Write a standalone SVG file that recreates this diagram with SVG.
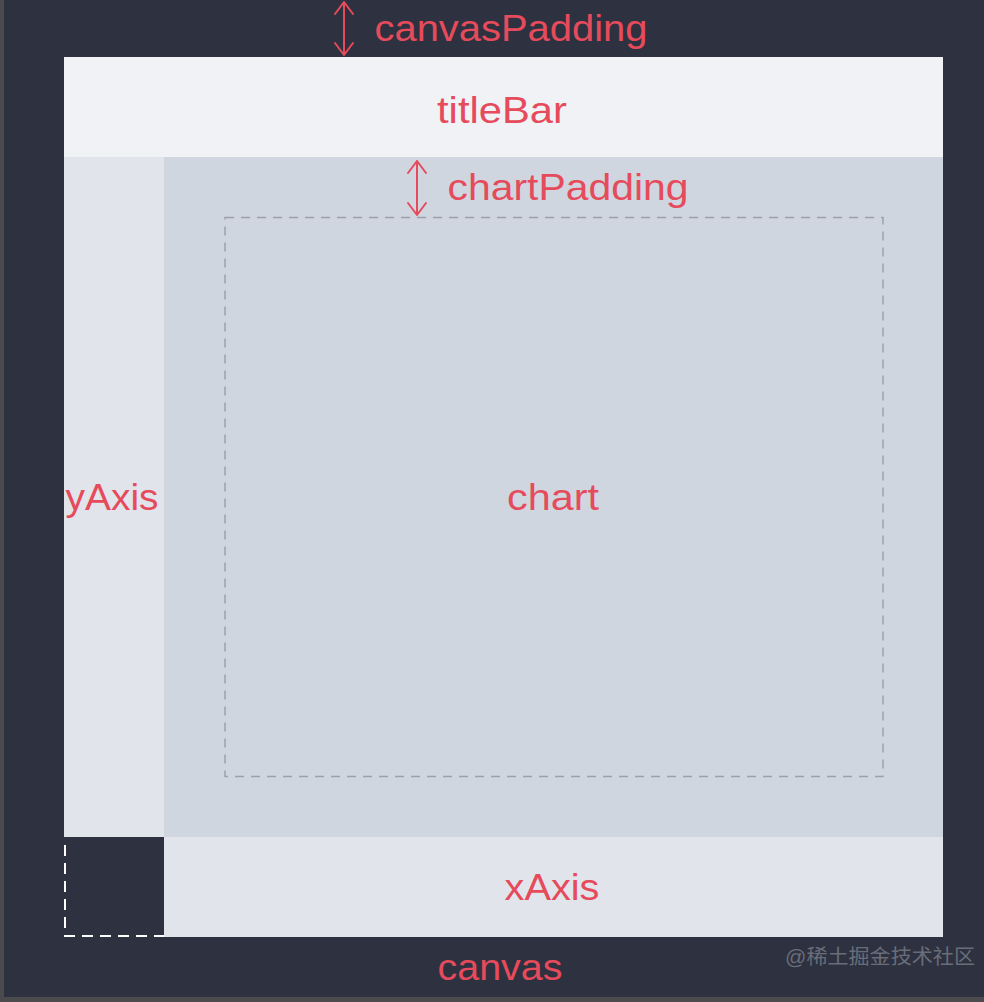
<svg xmlns="http://www.w3.org/2000/svg" width="984" height="1002" viewBox="0 0 984 1002">
<style>
.lbl{font-family:"Liberation Sans","Noto Sans",Arial,sans-serif;font-size:37px;fill:#e64b5c;text-anchor:middle}
.arr{stroke:#e64b5c;stroke-width:2;fill:none;stroke-linecap:round;stroke-linejoin:round}
.wm{font-family:"Liberation Sans","Noto Sans CJK SC",sans-serif;font-size:20px;fill:#7d818c;opacity:0.75}
</style>
<rect x="0" y="0" width="984" height="1002" fill="#2e3140"/>
<rect x="0" y="0" width="4" height="1002" fill="#4b4b4d"/>
<rect x="0" y="997" width="984" height="5" fill="#4b4b4d"/>
<g id="titleBar">
<rect x="64" y="57" width="879" height="100" fill="#f0f2f6"/>
<text class="lbl" x="502" y="123" textLength="130" lengthAdjust="spacingAndGlyphs">titleBar</text>
</g>
<g id="yAxis">
<rect x="64" y="157" width="100" height="680" fill="#e1e5eb"/>
<text class="lbl" x="112" y="510" textLength="93" lengthAdjust="spacingAndGlyphs">yAxis</text>
</g>
<g id="chartArea">
<rect x="164" y="157" width="779" height="680" fill="#d0d6e0"/>
</g>
<g id="chart">
<rect x="225" y="217.5" width="658" height="559" fill="none" stroke="#9aa1ad" stroke-width="1.5" stroke-dasharray="9 7"/>
<text class="lbl" x="553" y="510" textLength="92" lengthAdjust="spacingAndGlyphs">chart</text>
</g>
<g id="xAxis">
<rect x="164" y="837" width="779" height="100" fill="#e1e5eb"/>
<text class="lbl" x="552" y="900" textLength="95" lengthAdjust="spacingAndGlyphs">xAxis</text>
</g>
<g id="corner">
<path d="M65 845 V936 H164" fill="none" stroke="#ffffff" stroke-width="2" stroke-dasharray="11 7"/>
</g>
<g id="canvas">
<text class="lbl" x="500" y="980" textLength="125" lengthAdjust="spacingAndGlyphs">canvas</text>
</g>
<g id="connectors">
<g id="canvasPaddingArrow">
<path class="arr" d="M344 2 V55 M335 14 L344 2 L353 14 M335 43 L344 55 L353 43"/>
</g>
<g id="chartPaddingArrow">
<path class="arr" d="M417 161 V215 M408 173 L417 161 L426 173 M408 203 L417 215 L426 203"/>
</g>
</g>
<g id="canvasPadding">
<text class="lbl" x="511" y="41" textLength="273" lengthAdjust="spacingAndGlyphs">canvasPadding</text>
</g>
<g id="chartPadding">
<text class="lbl" x="568" y="200" textLength="241" lengthAdjust="spacingAndGlyphs">chartPadding</text>
</g>
<text class="wm" x="785" y="964" textLength="190" lengthAdjust="spacingAndGlyphs">@稀土掘金技术社区</text>
</svg>
